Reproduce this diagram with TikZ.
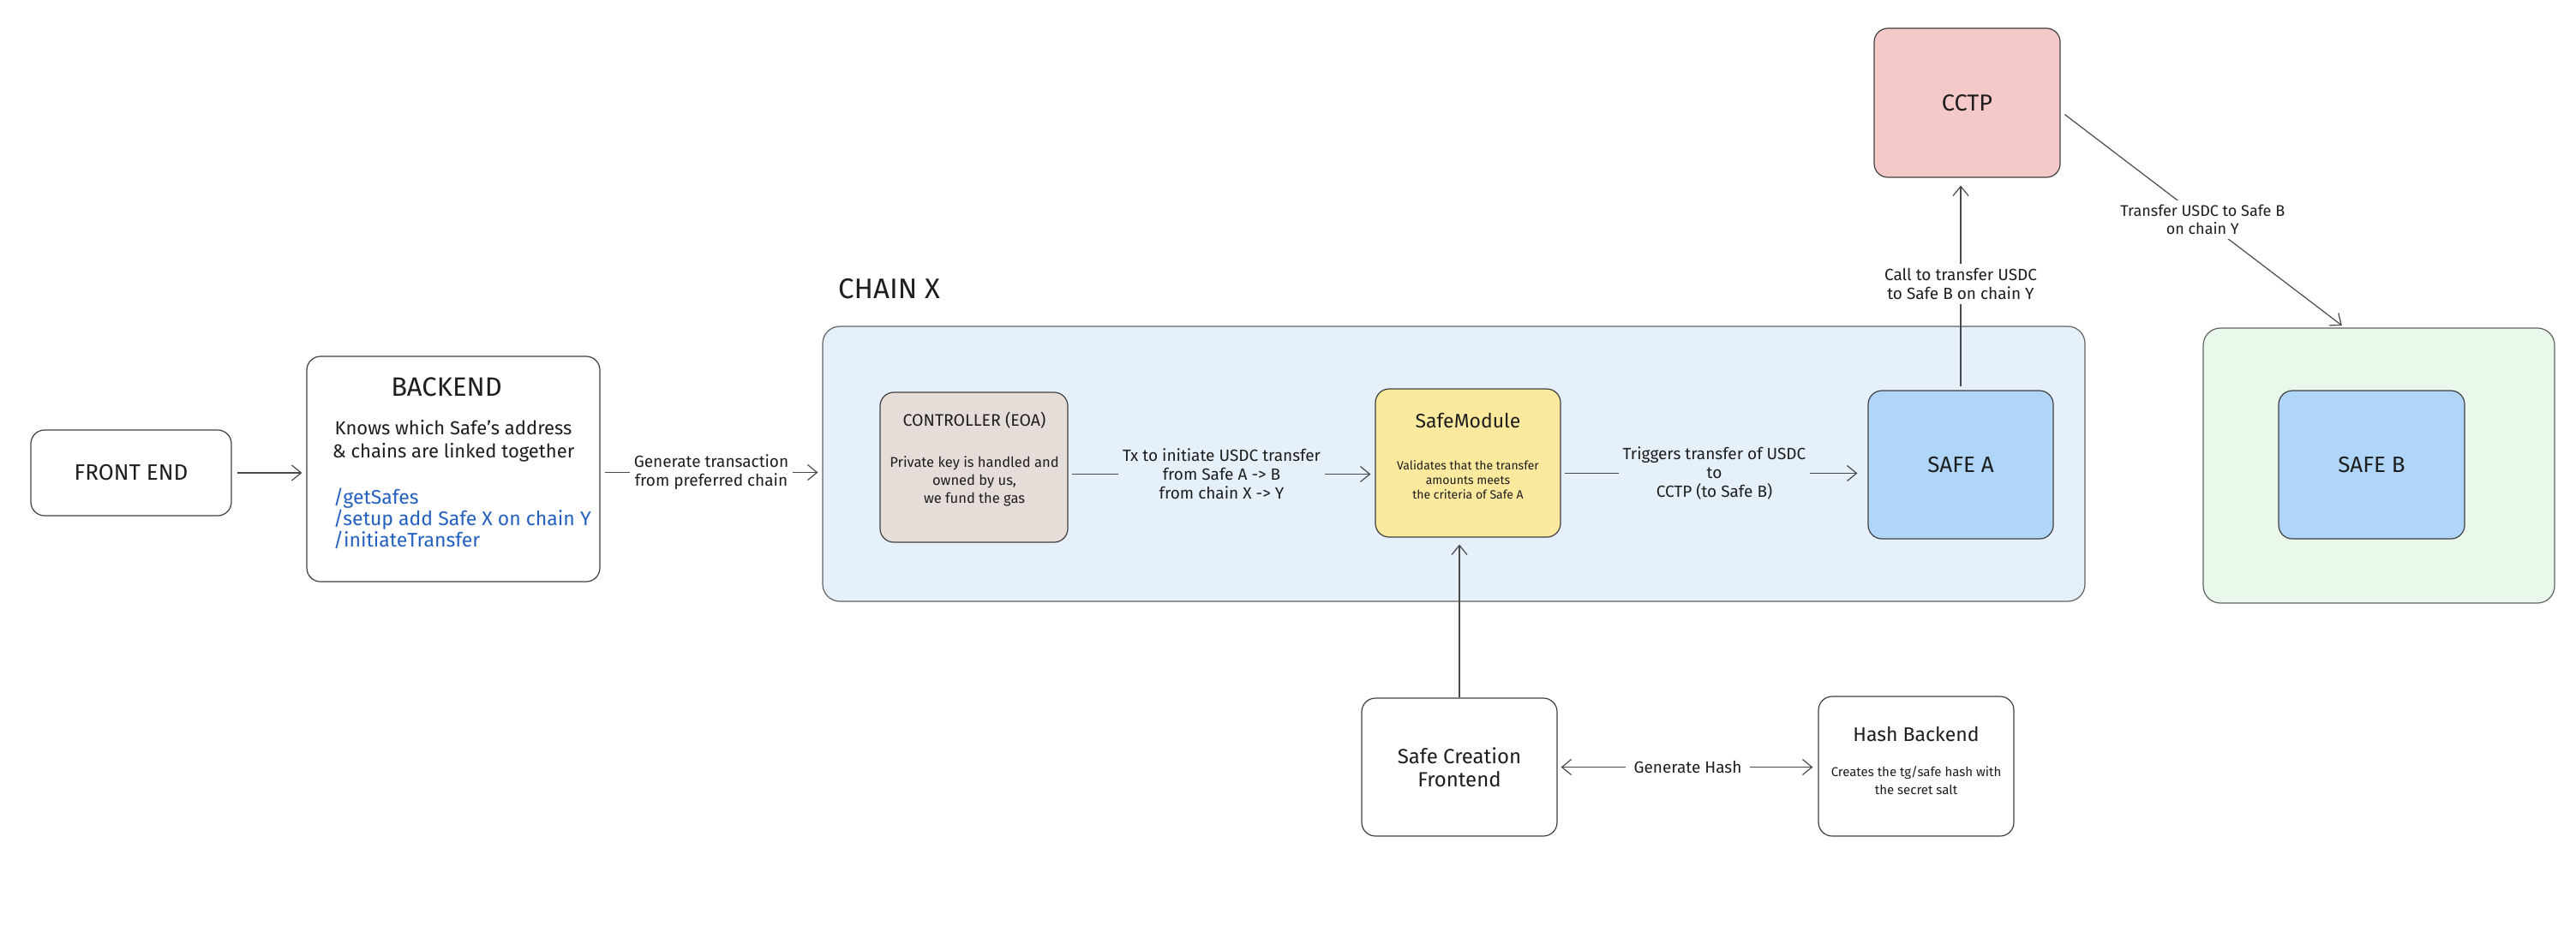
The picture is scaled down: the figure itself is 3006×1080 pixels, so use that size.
\documentclass[tikz,border=0pt]{standalone}
\usepackage{fontspec}
\setmainfont{Fira Sans}
\usetikzlibrary{arrows.meta}
\definecolor{ink}{HTML}{1E1E1E}
\definecolor{lineg}{HTML}{4A4A4A}
\definecolor{chainx}{HTML}{E6F0FB}
\definecolor{chainy}{HTML}{EAF7EB}
\definecolor{ctrlc}{HTML}{E6DDD8}
\definecolor{modc}{HTML}{FBE99E}
\definecolor{safec}{HTML}{AFD6F9}
\definecolor{cctpc}{HTML}{F6C9C9}
\definecolor{apiblue}{HTML}{2460C0}
\begin{document}
\begin{tikzpicture}[x=1pt,y=-1pt,
  box/.style={draw=ink!85, line width=1.2pt, rounded corners=16pt, inner sep=0pt},
  container/.style={draw=ink!70, line width=1.2pt, rounded corners=20pt, inner sep=0pt},
  arr/.style={draw=lineg, line width=1.2pt, -{Straight Barb[length=11pt,width=18pt]}},
  darr/.style={draw=lineg, line width=1.2pt, {Straight Barb[length=11pt,width=18pt]}-{Straight Barb[length=11pt,width=18pt]}},
  lbl/.style={text=ink, align=center, inner sep=5pt, font=\fontsize{19}{22}\selectfont},
  txt/.style={text=ink, align=center, inner sep=0pt},
]
\useasboundingbox (0,0) rectangle (3006,1080);

% containers
\node[container, fill=chainx, minimum width=1473pt, minimum height=321pt] (cx) at (1696.5,541.5) {};
\node[txt, anchor=west, font=\fontsize{33}{36}\selectfont] (cxt) at (978,337) {CHAIN X};
\node[container, fill=chainy, minimum width=410pt, minimum height=321pt] (cy) at (2776,543.5) {};

% boxes
\node[box, fill=white, minimum width=234pt, minimum height=100pt] (fe) at (153,552) {};
\node[txt, font=\fontsize{26}{30}\selectfont] (fet) at (fe.center) {FRONT END};

\node[box, fill=white, minimum width=342pt, minimum height=263pt] (be) at (529,547.5) {};
\node[txt, font=\fontsize{31}{34}\selectfont] (bet) at (521,452) {BACKEND};
\node[txt, font=\fontsize{22}{27}\selectfont] (bed) at (529,515) {Knows which Safe's address\\\& chains are linked together};
\node[txt, anchor=north west, align=left, text=apiblue, font=\fontsize{23}{25}\selectfont] (beapi) at (389,570) {/getSafes\\/setup add Safe X on chain Y\\/initiateTransfer};

\node[box, fill=ctrlc, minimum width=219pt, minimum height=175pt] (ctrl) at (1136.5,545.5) {};
\node[txt, font=\fontsize{19.5}{22}\selectfont] (ctrlt) at (1137,491) {CONTROLLER (EOA)};
\node[txt, font=\fontsize{16.5}{21}\selectfont] (ctrld) at (1137,562) {Private key is handled and\\owned by us,\\we fund the gas};

\node[box, fill=modc, minimum width=216pt, minimum height=173pt] (sm) at (1713,540.5) {};
\node[txt, font=\fontsize{23}{26}\selectfont] (smt) at (1713,491) {SafeModule};
\node[txt, font=\fontsize{14}{17}\selectfont] (smd) at (1713,560) {Validates that the transfer\\amounts meets\\the criteria of Safe A};

\node[box, fill=safec, minimum width=216pt, minimum height=173pt] (sa) at (2288,542.5) {};
\node[txt, font=\fontsize{26}{28}\selectfont] (sat) at (sa.center) {SAFE A};

\node[box, fill=cctpc, minimum width=217pt, minimum height=174pt] (cctp) at (2295.5,120) {};
\node[txt, font=\fontsize{27}{30}\selectfont] (cctpt) at (cctp.center) {CCTP};

\node[box, fill=safec, minimum width=217pt, minimum height=173pt] (sb) at (2767.5,542.5) {};
\node[txt, font=\fontsize{26}{28}\selectfont] (sbt) at (sb.center) {SAFE B};

\node[box, fill=white, minimum width=228pt, minimum height=161pt] (scf) at (1703,895.5) {};
\node[txt, font=\fontsize{24}{27}\selectfont] (scft) at (scf.center) {Safe Creation\\Frontend};

\node[box, fill=white, minimum width=228pt, minimum height=163pt] (hb) at (2236,894.5) {};
\node[txt, font=\fontsize{23}{26}\selectfont] (hbt) at (2236,857) {Hash Backend};
\node[txt, font=\fontsize{15}{21}\selectfont] (hbd) at (2236,911) {Creates the tg/safe hash with\\the secret salt};

% connectors
\draw[arr, shorten <=6pt, shorten >=5pt] (fe.east) -- (fe.east -| be.west);
\draw[arr, shorten <=5pt, shorten >=5pt] ([yshift=-4pt]be.east) -- ([yshift=-4pt]be.east -| cx.west)
  node[midway, lbl, fill=white] {Generate transaction\\from preferred chain};
\draw[arr, shorten <=4pt, shorten >=5pt] ([yshift=-8pt]ctrl.east) -- ([yshift=-8pt]ctrl.east -| sm.west)
  node[midway, lbl, fill=chainx] {Tx to initiate USDC transfer\\from Safe A -> B\\from chain X -> Y};
\draw[arr, shorten <=4pt, shorten >=12pt] ([yshift=-12pt]sm.east) -- ([yshift=-12pt]sm.east -| sa.west)
  node[midway, lbl, fill=chainx] {Triggers transfer of USDC\\to\\CCTP (to Safe B)};
\draw[arr, shorten <=4pt, shorten >=9pt] (sa.north) -- (sa.north |- cctp.south)
  node[pos=0.5, lbl, fill=white] {Call to transfer USDC\\to Safe B on chain Y};
\draw[arr, shorten <=6pt, shorten >=4pt] ([yshift=-10pt]cctp.east) -- ([xshift=-40pt]cy.north)
  node[pos=0.5, lbl, fill=white, font=\fontsize{18}{21}\selectfont] {Transfer USDC to Safe B\\on chain Y};
\draw[arr, shorten >=8pt] (scf.north) -- (scf.north |- sm.south);
\draw[darr, shorten <=4pt, shorten >=6pt] (scf.east) -- (scf.east -| hb.west)
  node[midway, lbl, fill=white, inner xsep=10pt] {Generate Hash};
\end{tikzpicture}
\end{document}
